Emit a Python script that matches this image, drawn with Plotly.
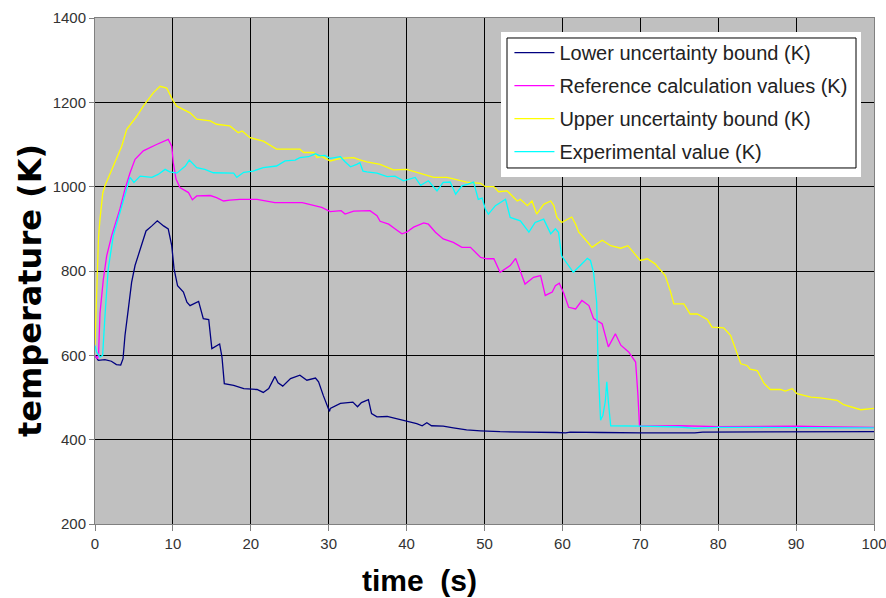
import plotly.graph_objects as go

# ---------------- data ----------------
lower_t = [0, 0.42, 1.28, 2.1, 2.75, 3.3, 3.6, 3.85, 4.28, 4.7, 5.14, 5.8, 6.55, 7.3, 8.0, 8.8, 9.4, 9.85,
           10.15, 10.6, 11.35, 11.8, 12.2, 13.3, 13.9, 14.6, 15.0, 16.0, 16.3, 16.6, 17.8, 19.1, 20.8, 21.6,
           22.3, 23.1, 23.5, 24.1, 25.1, 26.3, 27.2, 28.3, 28.7, 29.3, 30.1, 30.2, 31.5, 33.1, 33.7, 34.2,
           35.1, 35.5, 36.2, 37.5, 38.7, 40.0, 41.3, 42.0, 42.6, 43.2, 44.7, 46.0, 47.7, 49.5, 52.0, 59.3,
           60.4, 61.0, 62.5, 65, 70, 77, 78, 82, 85, 88, 90, 95, 100]
lower_T = [600, 588, 590, 586, 578, 577, 592, 647, 710, 773, 813, 852, 895, 907, 919, 907, 900, 860,
           805, 765, 750, 726, 718, 728, 687, 685, 616, 627, 596, 533, 529, 521, 519, 512,
           521, 550, 535, 527, 545, 553, 541, 546, 537, 505, 467, 474, 486, 489, 478, 488,
           495, 462, 454, 455, 450, 444, 438, 433, 440, 433, 432, 428, 423, 421, 419, 417,
           416, 418, 417, 417, 416, 416, 418, 418, 419, 419, 418, 418, 419]

ref_t = [0, 0.3, 0.45, 0.64, 1.07, 1.5, 2.14, 3.2, 3.85, 4.5, 5.14, 6.2, 7.9, 9.4, 9.85, 10.05, 10.4, 10.9,
         12.0, 12.5, 13.06, 14.8, 15.6, 16.5, 17.3, 18.6, 20.8, 22.1, 23.1, 26.6, 28.3, 29.1, 30.2, 31.6,
         32.1, 33.2, 35.3, 36.2, 36.6, 37.7, 38.5, 39.4, 40.0, 40.9, 42.2, 42.8, 43.7, 44.7, 46.0, 47.1,
         48.2, 49.5, 50.3, 51.2, 52.0, 53.3, 54.0, 54.6, 55.2, 56.3, 57.2, 57.8, 58.7, 59.1, 59.6, 60.2,
         60.8, 61.7, 62.5, 63.4, 64.0, 65.1, 65.9, 66.8, 67.5, 68.5, 69.4, 69.7, 69.9, 70.3, 75, 80, 85,
         90, 95, 100]
ref_T = [600, 592, 600, 700, 780, 836, 884, 947, 994, 1033, 1065, 1085, 1100, 1112, 1096, 1057, 1018, 998,
         986, 969, 978, 979, 974, 966, 968, 970, 970, 966, 962, 962, 955, 951, 941, 943,
         935, 942, 943, 931, 918, 911, 900, 888, 892, 904, 914, 911, 892, 876, 868, 856,
         856, 832, 829, 829, 797, 813, 830, 797, 769, 785, 789, 742, 750, 765, 771, 746,
         714, 710, 730, 718, 687, 675, 620, 651, 624, 608, 584, 505, 432, 432, 433, 431, 432,
         432, 430, 429]

upper_t = [0, 0.05, 0.2, 0.45, 0.64, 1.0, 1.28, 2.35, 3.43, 4.07, 5.36, 6.2, 7.5, 8.35, 9.2, 10.05, 10.5,
           12.2, 13.06, 14.8, 15.6, 17.3, 18.4, 18.9, 19.9, 21.6, 23.3, 26.3, 26.8, 28.1, 28.5, 29.1,
           30.2, 31.5, 33.2, 33.9, 34.9, 36.6, 38.3, 40.0, 41.8, 43.5, 45.2, 46.5, 47.7, 49.5, 50.1,
           51.2, 51.8, 52.9, 54.2, 54.6, 55.5, 56.1, 56.7, 57.6, 58.5, 58.9, 59.3, 59.9, 60.6, 61.2,
           61.7, 62.1, 62.7, 63.8, 65.1, 66.2, 67.5, 68.4, 70.0, 70.9, 71.9, 73.2, 73.9, 74.3, 75.6,
           76.4, 77.3, 78.6, 79.2, 80.7, 81.6, 82.4, 82.9, 83.7, 84.1, 85.0, 85.9, 86.7, 88.0, 88.6,
           89.5, 90.1, 91.9, 93.1, 95.3, 96.1, 97.0, 98.3, 100]
upper_T = [625, 650, 765, 880, 923, 985, 1002, 1049, 1096, 1136, 1167, 1191, 1223, 1238, 1234, 1203, 1191,
           1175, 1160, 1156, 1148, 1144, 1128, 1132, 1116, 1108, 1089, 1089, 1081, 1081, 1069, 1072,
           1061, 1067, 1069, 1064, 1059, 1053, 1040, 1041, 1032, 1022, 1022, 1016, 1011, 1008, 1000,
           1000, 988, 990, 966, 970, 955, 966, 935, 958, 966, 955, 927, 915, 923, 928,
           911, 892, 880, 856, 873, 860, 854, 860, 825, 829, 817, 789, 750, 722, 722,
           698, 698, 685, 667, 665, 647, 604, 580, 576, 567, 564, 533, 519, 519, 515,
           521, 509, 501, 499, 493, 483, 478, 471, 474]

exp_t = [0, 0.2, 0.64, 0.98, 1.28, 1.7, 2.35, 3.2, 3.85, 4.5, 5.0, 5.8, 6.4, 7.3, 8.1, 9.0, 9.6, 10.5,
         11.6, 12.1, 13.06, 14.1, 15.2, 17.3, 17.8, 18.2, 19.1, 20.3, 21.6, 23.3, 24.4, 25.7, 26.3, 27.4,
         28.3, 28.9, 29.5, 30.2, 31.0, 31.5, 32.1, 32.8, 33.6, 34.0, 34.4, 34.9, 36.2, 37.5, 38.5, 39.6,
         41.1, 41.8, 42.8, 43.9, 44.7, 45.6, 46.3, 47.1, 47.9, 48.6, 49.2, 49.7, 50.1, 50.5, 51.4, 52.7,
         53.3, 54.6, 55.7, 56.5, 57.6, 58.5, 59.1, 59.5, 59.9, 60.8, 61.4, 62.3, 63.2, 63.6, 64.0, 64.4,
         64.6, 64.9, 65.2, 65.5, 65.7, 65.9, 66.2, 70, 75, 77, 80, 85, 90, 95, 100]
exp_T = [623, 608, 596, 600, 694, 805, 884, 939, 986, 1022, 1010, 1025, 1024, 1022, 1029, 1041, 1035, 1032,
         1049, 1063, 1045, 1041, 1033, 1032, 1032, 1022, 1034, 1037, 1045, 1049, 1061, 1063, 1069, 1071,
         1078, 1073, 1074, 1067, 1069, 1071, 1059, 1047, 1053, 1057, 1037, 1035, 1032, 1024, 1025, 1014,
         1022, 1003, 1014, 990, 1010, 1011, 982, 1002, 1006, 1011, 970, 973, 947, 935, 955, 970,
         927, 919, 892, 915, 923, 888, 900, 892, 836, 813, 797, 813, 830, 825, 797, 726,
         568, 446, 458, 490, 537, 490, 433, 432, 430, 427, 429, 429, 428, 428, 428]

names = ["Lower uncertainty bound (K)", "Reference calculation values (K)",
         "Upper uncertainty bound (K)", "Experimental value (K)"]
colors = ["#000080", "#FF00FF", "#FFFF00", "#00FFFF"]

x_ticks = [0, 10, 20, 30, 40, 50, 60, 70, 80, 90, 100]
y_ticks = [200, 400, 600, 800, 1000, 1200, 1400]

# ---------------- figure ----------------
FONT = "Liberation Sans, Arial, sans-serif"
fig = go.Figure()
series = [(lower_t, lower_T), (ref_t, ref_T), (upper_t, upper_T), (exp_t, exp_T)]
for i, ((tx, ty), nm, c) in enumerate(zip(series, names, colors)):
    fig.add_trace(go.Scatter(x=tx, y=ty, mode="lines", name=nm, legendgroup=str(i),
                             line=dict(color=c, width=1.3)))

fig.update_layout(
    width=886, height=598,
    margin=dict(l=95, r=12, t=18, b=74),
    paper_bgcolor="white", plot_bgcolor="#C0C0C0",
    font=dict(family=FONT, color="#333333"),
    showlegend=True,
    legend=dict(x=0.532, y=0.970, xanchor="left", yanchor="top",
                bgcolor="rgba(0,0,0,0)", borderwidth=0, itemwidth=40,
                traceorder="grouped", tracegroupgap=4,
                font=dict(family=FONT, size=20, color="#222222")),
    shapes=[
        dict(type="rect", xref="paper", yref="paper", x0=0.5212, x1=0.9833, y0=0.6858, y1=0.9723,
             fillcolor="white", line=dict(width=0), layer="above"),
        dict(type="rect", xref="paper", yref="paper", x0=0.5289, x1=0.9769, y0=0.7036, y1=0.9605,
             fillcolor="rgba(0,0,0,0)", line=dict(color="black", width=1), layer="above"),
    ],
    annotations=[
        dict(text="<b>time  (s)</b>", xref="paper", yref="paper", x=0.4172, y=-0.1107,
             showarrow=False, font=dict(family=FONT, size=30, color="black"),
             xanchor="center", yanchor="middle"),
        dict(text="<b>temperature (K)</b>", xref="paper", yref="paper", x=-0.0834, y=0.4605,
             showarrow=False, textangle=-90,
             font=dict(family="DejaVu Sans, sans-serif", size=32, color="black"),
             xanchor="center", yanchor="middle"),
    ],
)
fig.update_xaxes(range=[0, 100], tickvals=x_ticks, showgrid=True, gridcolor="black", gridwidth=1,
                 showline=True, linecolor="#808080", linewidth=1, mirror=True, automargin=False,
                 ticklabeloverflow="allow",
                 ticks="outside", ticklen=6, tickcolor="#808080", zeroline=False,
                 tickfont=dict(family=FONT, size=15, color="#333333"))
fig.update_yaxes(range=[200, 1400], tickvals=y_ticks, showgrid=True, gridcolor="black", gridwidth=1,
                 showline=True, linecolor="#808080", linewidth=1, mirror=True, automargin=False,
                 ticklabeloverflow="allow",
                 ticks="outside", ticklen=5, tickcolor="#808080", zeroline=False,
                 tickfont=dict(family=FONT, size=15, color="#333333"))

fig.write_html("out.html")
